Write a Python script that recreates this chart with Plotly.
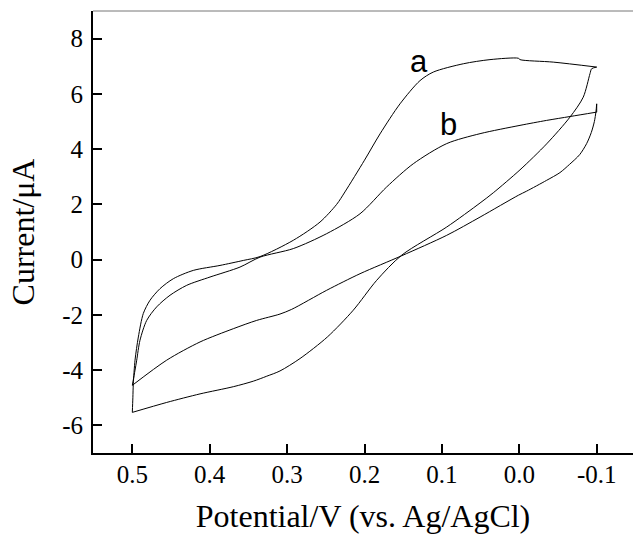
import plotly.graph_objects as go

# ---- data (potential in V vs Ag/AgCl, current in uA) ----
a_potential = [0.5, 0.4993, 0.4987, 0.4965, 0.4922, 0.4858, 0.4771, 0.4642, 0.4470, 0.4212,
               0.3867, 0.3566, 0.335, 0.292, 0.2575, 0.2360, 0.2253, 0.2, 0.18, 0.1541,
               0.1283, 0.1111, 0.0723, 0.0379, 0.0012, -0.0009, -0.0439, -0.1,
               -0.0935, -0.0913, -0.0826, -0.0655, -0.0353, -0.0009, 0.0336, 0.0507,
               0.0938, 0.152, 0.1843, 0.2145, 0.248, 0.2833, 0.3092, 0.3263, 0.3437,
               0.3695, 0.4125, 0.4556, 0.5]
a_current = [-5.53, -5.0, -4.49, -3.64, -2.80, -1.95, -1.47, -1.05, -0.69, -0.39,
             -0.21, -0.03, 0.11, 0.70, 1.36, 2.0, 2.45, 3.6, 4.55, 5.64,
             6.48, 6.79, 7.09, 7.24, 7.29, 7.24, 7.15, 6.97,
             6.91, 6.73, 5.88, 5.16, 4.19, 3.25, 2.42, 2.05,
             1.18, 0.16, -0.75, -1.83, -2.80, -3.58, -4.03, -4.22, -4.40,
             -4.60, -4.86, -5.17, -5.53]

b_potential = [0.5, 0.4965, 0.4943, 0.4901, 0.4814, 0.4685, 0.4513, 0.4297, 0.3996, 0.3609,
               0.335, 0.292, 0.2489, 0.2058, 0.1714, 0.137, 0.0938, 0.0507, -0.0009,
               -0.0353, -0.0655, -0.1, -0.1,
               -0.099, -0.097, -0.093, -0.087, -0.078, -0.065, -0.0525, -0.0353,
               -0.0095, 0.0012, 0.0507, 0.0938, 0.152, 0.2058, 0.2489, 0.2941, 0.3092,
               0.3393, 0.3695, 0.4125, 0.4556, 0.5]
b_current = [-4.55, -4.0, -3.64, -2.92, -2.20, -1.71, -1.29, -0.93, -0.63, -0.27,
             0.09, 0.40, 0.94, 1.66, 2.63, 3.47, 4.20, 4.56, 4.86,
             5.04, 5.18, 5.34, 5.64,
             5.35, 5.0, 4.6, 4.2, 3.8, 3.45, 3.15, 2.87,
             2.48, 2.33, 1.54, 0.88, 0.14, -0.51, -1.11, -1.80, -1.97,
             -2.20, -2.50, -2.98, -3.64, -4.55]

curve_labels = ["a", "b"]
label_potential = [0.130, 0.092]
label_current = [7.18, 4.89]

x_tick_vals = [0.5, 0.4, 0.3, 0.2, 0.1, 0.0, -0.1]
x_tick_text = ["0.5", "0.4", "0.3", "0.2", "0.1", "0.0", "-0.1"]
y_tick_vals = [-6, -4, -2, 0, 2, 4, 6, 8]
y_tick_text = ["-6", "-4", "-2", "0", "2", "4", "6", "8"]

x_title = "Potential/V (vs. Ag/AgCl)"
y_title = "Current/\u03bcA"

serif = "Liberation Serif, Times New Roman, serif"

fig = go.Figure()


def add_loop(xs, ys):
    """Draw a CV loop as forward sweep, turn-around segment and reverse sweep."""
    x_min = min(xs)
    turn = [i for i, v in enumerate(xs) if v == x_min]
    i0, i1 = turn[0], turn[-1]
    parts = [(xs[:i0 + 1], ys[:i0 + 1], "spline"),
             (xs[i0:i1 + 1], ys[i0:i1 + 1], "linear"),
             (xs[i1:], ys[i1:], "spline")]
    for px, py, shape in parts:
        if len(px) < 2:
            continue
        fig.add_trace(go.Scatter(x=px, y=py, mode="lines",
                                 line=dict(color="black", width=1, shape=shape, smoothing=0.8),
                                 showlegend=False, hoverinfo="skip"))


add_loop(a_potential, a_current)
add_loop(b_potential, b_current)

for lab, lx, ly in zip(curve_labels, label_potential, label_current):
    fig.add_annotation(x=lx, y=ly, text=lab, showarrow=False,
                       font=dict(family="Liberation Sans, Arial, sans-serif", size=31, color="black"))

fig.update_layout(
    width=633, height=538,
    margin=dict(l=93, r=0, t=11, b=85),
    paper_bgcolor="white", plot_bgcolor="white",
    font=dict(family=serif, color="black"),
)
fig.update_xaxes(
    range=[0.5508, -0.1469], showgrid=False, zeroline=False,
    showline=True, linecolor="black", linewidth=2,
    ticks="inside", ticklen=9, tickwidth=1.5, tickcolor="black",
    tickvals=x_tick_vals, ticktext=x_tick_text,
    tickfont=dict(family=serif, size=25, color="black"),
    ticklabelstandoff=-2,
    title=dict(text=x_title, font=dict(family=serif, size=32, color="black"), standoff=18),
)
fig.update_yaxes(
    range=[-7, 9], showgrid=False, zeroline=False,
    showline=True, linecolor="black", linewidth=2,
    ticks="inside", ticklen=9, tickwidth=1.5, tickcolor="black",
    tickvals=y_tick_vals, ticktext=y_tick_text,
    tickfont=dict(family=serif, size=25, color="black"),
    ticklabelstandoff=3,
    title=dict(text=y_title, font=dict(family=serif, size=32, color="black"), standoff=18),
)
fig.add_shape(type="line", xref="paper", yref="paper", x0=0, x1=1, y0=1, y1=1,
              line=dict(color="#777777", width=1))

fig.write_html("out.html")
